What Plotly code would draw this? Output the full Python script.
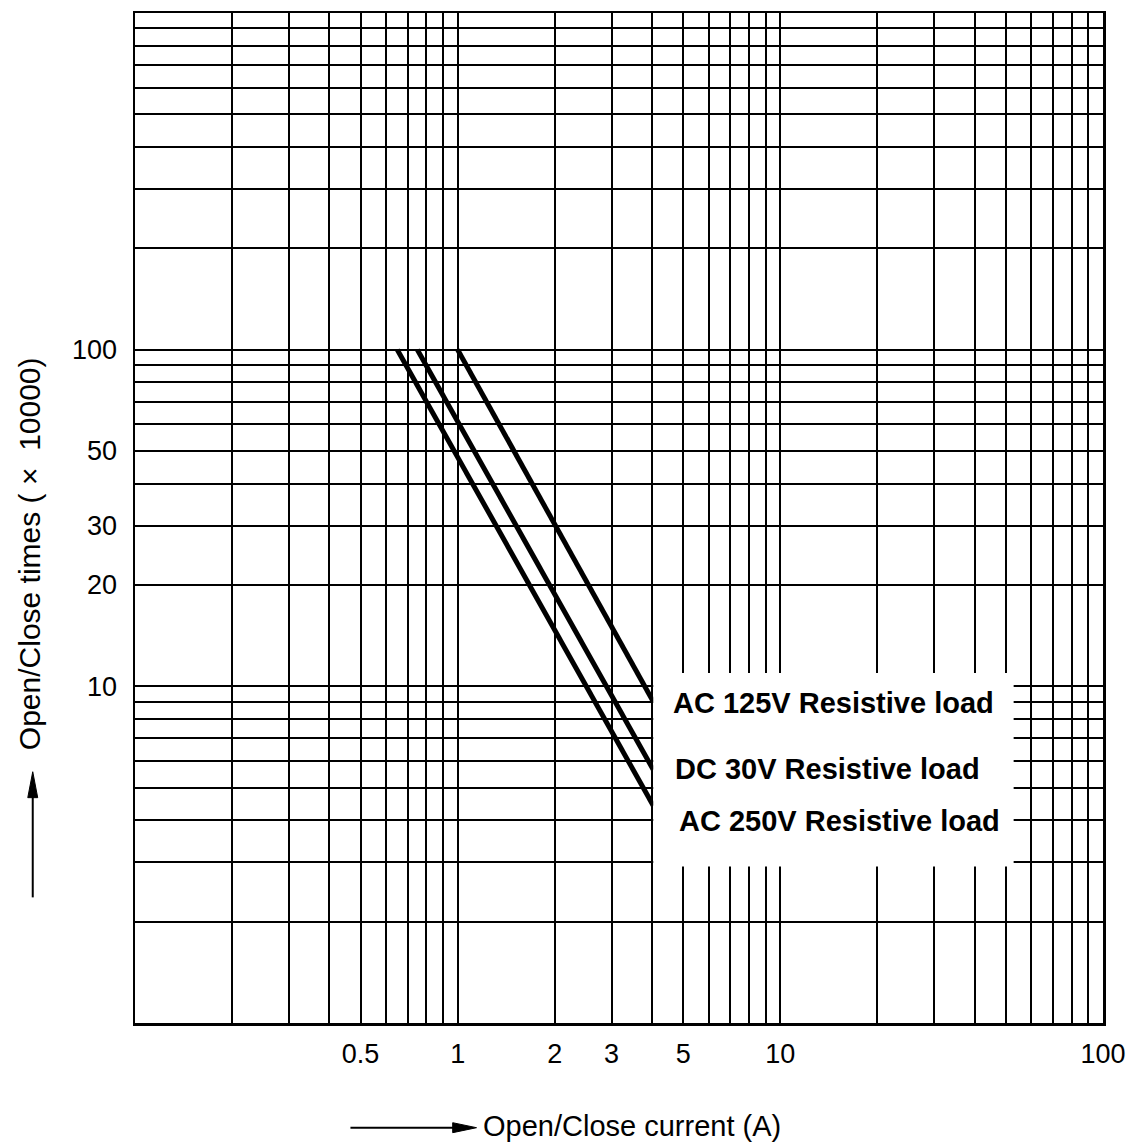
import plotly.graph_objects as go

# ---------------- data ----------------
series_names = ["AC 125V Resistive load", "DC 30V Resistive load", "AC 250V Resistive load"]

current_ac125 = [1.0, 4.04]
times_ac125 = [100, 9.0]

current_dc30 = [0.75, 4.04]
times_dc30 = [100, 5.65]

current_ac250 = [0.65, 4.04]
times_ac250 = [100, 4.42]

# grid / tick positions (log paper: 1..9 in every decade)
x_grid = [d * 10 ** k for k in (-1, 0, 1) for d in range(1, 10)] + [100]
y_grid = [d * 10 ** k for k in (0, 1, 2) for d in range(1, 10)] + [1000]
x_labels = {0.5: "0.5", 1: "1", 2: "2", 3: "3", 5: "5", 10: "10", 100: "100"}
y_labels = {10: "10", 20: "20", 30: "30", 50: "50", 100: "100"}

x_title = "Open/Close current (A)"
y_title = "Open/Close times ( \u00d7\u00a0\u00a010000)"

# ---------------- layout geometry ----------------
W, H = 1136, 1144
PLOT_L, PLOT_R, PLOT_T, PLOT_B = 135, 1110, 10, 1023   # page pixels
L, T = PLOT_L, PLOT_T
R, B = W - PLOT_R, H - PLOT_B
PW, PH = PLOT_R - PLOT_L, PLOT_B - PLOT_T


def px(x):
    return (x - PLOT_L) / PW


def py(y):
    return (PLOT_B - y) / PH


def lab(v, d):
    for k, t in d.items():
        if abs(v - k) < 1e-9 * max(1, k):
            return t
    return ""


FONT = "Liberation Sans, Arial, Helvetica, sans-serif"

fig = go.Figure()
for xs, ys, name in [(current_ac125, times_ac125, series_names[0]),
                     (current_dc30, times_dc30, series_names[1]),
                     (current_ac250, times_ac250, series_names[2])]:
    fig.add_trace(go.Scatter(x=xs, y=ys, mode="lines", name=name,
                             line=dict(color="black", width=5)))

axis_common = dict(type="log", showgrid=True, gridcolor="black", gridwidth=2,
                   showline=True, mirror=True, linecolor="black", linewidth=2.5,
                   ticks="", zeroline=False, tickfont=dict(size=27, color="black", family=FONT))

fig.update_xaxes(range=[-1, 2], tickmode="array", tickvals=x_grid,
                 ticktext=[lab(v, x_labels) for v in x_grid], ticklabelstandoff=5,
                 **axis_common)
fig.update_yaxes(range=[0, 3], tickmode="array", tickvals=y_grid,
                 ticktext=[lab(v, y_labels) for v in y_grid], ticklabelstandoff=10,
                 **axis_common)

ARROW_Y = 1128
shapes = [
    # white label box
    dict(type="rect", xref="paper", yref="paper", x0=px(657), x1=px(1020),
         y0=py(866), y1=py(672), fillcolor="white", line=dict(width=0), layer="above"),
    # y-axis arrow
    dict(type="line", xref="paper", yref="paper", x0=px(32), x1=px(32),
         y0=py(897), y1=py(792), line=dict(color="black", width=2)),
    dict(type="path", xref="paper", yref="paper",
         path=f"M {px(32)},{py(771)} L {px(27)},{py(797)} L {px(37)},{py(797)} Z",
         fillcolor="black", line=dict(color="black", width=1)),
    # x-axis arrow
    dict(type="line", xref="paper", yref="paper", x0=px(352), x1=px(460),
         y0=py(ARROW_Y), y1=py(ARROW_Y), line=dict(color="black", width=2)),
    dict(type="path", xref="paper", yref="paper",
         path=f"M {px(479)},{py(ARROW_Y)} L {px(455)},{py(ARROW_Y - 5)} L {px(455)},{py(ARROW_Y + 5)} Z",
         fillcolor="black", line=dict(color="black", width=1)),
]

annotations = [
    dict(text="<b>" + series_names[0] + "</b>", x=px(675), y=py(702)),
    dict(text="<b>" + series_names[1] + "</b>", x=px(677), y=py(768)),
    dict(text="<b>" + series_names[2] + "</b>", x=px(681), y=py(820)),
]
annotations = [dict(a, xref="paper", yref="paper", xanchor="left", yanchor="middle",
                    showarrow=False, font=dict(size=29, family=FONT, color="black"))
               for a in annotations]
annotations.append(dict(text=x_title, xref="paper", yref="paper", x=px(484), y=py(1126),
                        xanchor="left", yanchor="middle", showarrow=False,
                        font=dict(size=29, family=FONT, color="black")))
annotations.append(dict(text=y_title, xref="paper", yref="paper", x=px(29), y=py(552),
                        xanchor="center", yanchor="middle", textangle=-90, showarrow=False,
                        font=dict(size=30, family=FONT, color="black")))

fig.update_layout(width=W, height=H, margin=dict(l=L, r=R, t=T, b=B, pad=0),
                  showlegend=False, plot_bgcolor="white", paper_bgcolor="white",
                  font=dict(family=FONT, color="black"),
                  shapes=shapes, annotations=annotations)

# remove the page's default body margin so the figure fills the window exactly
fig.write_html("out.html",
               config={"displayModeBar": False, "staticPlot": True},
               post_script="document.body.style.margin='0';document.body.style.overflow='hidden';")
